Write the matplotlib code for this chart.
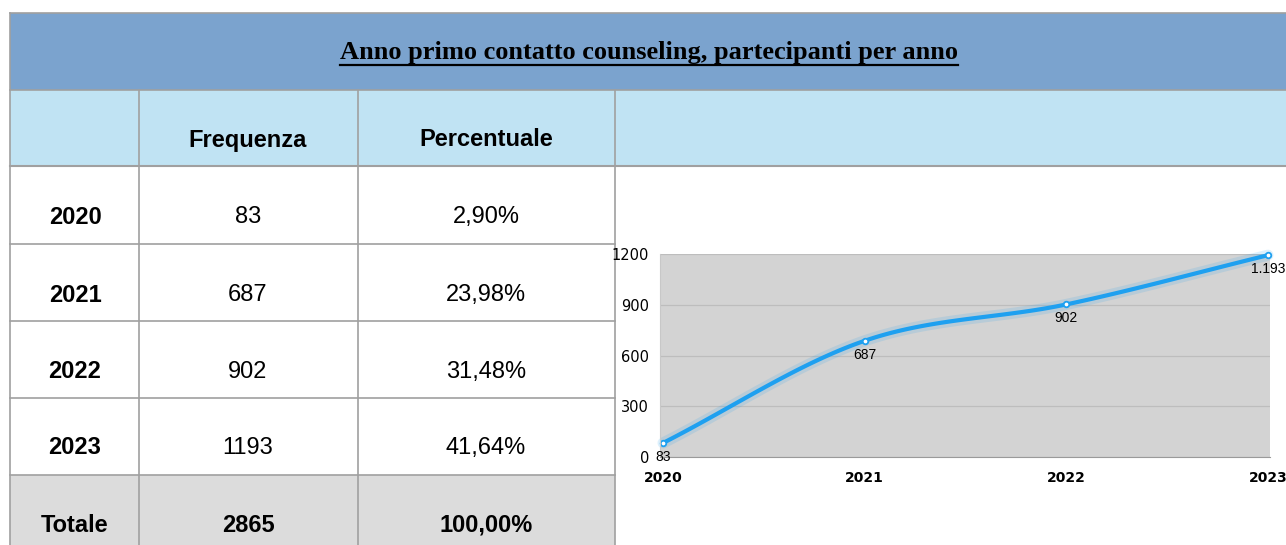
import numpy as np
import matplotlib
matplotlib.use("Agg")
import matplotlib.pyplot as plt
from matplotlib.patches import Rectangle

# ---- data ----
title = "Anno primo contatto counseling, partecipanti per anno"
headers = ["", "Frequenza", "Percentuale"]
years = ["2020", "2021", "2022", "2023"]
freq = [83, 687, 902, 1193]
perc = ["2,90%", "23,98%", "31,48%", "41,64%"]
total_label = "Totale"
total_freq = "2865"
total_perc = "100,00%"
point_labels = ["83", "687", "902", "1.193"]
yticks = [0, 300, 600, 900, 1200]

W, H = 1286, 545
fig = plt.figure(figsize=(W / 100, H / 100), dpi=100)
bg = fig.add_axes([0, 0, 1, 1])
bg.set_xlim(0, W)
bg.set_ylim(H, 0)
bg.axis("off")

grid_c = "#a0a0a0"
# title band
bg.add_patch(Rectangle((10, 13), W - 10, 77, facecolor="#7BA3CE", edgecolor="none"))
# header band
bg.add_patch(Rectangle((10, 90), W - 10, 76, facecolor="#C0E3F3", edgecolor="none"))
# totals band
bg.add_patch(Rectangle((10, 475), 605, 75, facecolor="#DCDCDC", edgecolor="none"))

# borders
bg.plot([10, W], [13, 13], color=grid_c, lw=1.2)
bg.plot([10, W], [90, 90], color=grid_c, lw=1.2)
bg.plot([10, W], [166, 166], color=grid_c, lw=1.5)
for y in [244, 321, 398, 475]:
    bg.plot([10, 615], [y, y], color=grid_c, lw=1.2)
bg.plot([10, 10], [13, H], color=grid_c, lw=1.2)
for x in [139, 358]:
    bg.plot([x, x], [90, H], color=grid_c, lw=1.2)
bg.plot([615, 615], [90, H], color=grid_c, lw=1.2)

# title
t = bg.text(649, 52, title, ha="center", va="center", fontsize=19,
            fontfamily="Liberation Serif", fontweight="bold", color="black")
fig.canvas.draw()
bb = t.get_window_extent(renderer=fig.canvas.get_renderer())
bg.plot([bb.x0, bb.x1], [H - bb.y0 + 1, H - bb.y0 + 1], color="black", lw=1.6)

# header
sans = "Liberation Sans"
fs = 17
bg.text(248, 140, headers[1], ha="center", va="center", fontsize=fs,
        fontfamily=sans, fontweight="bold")
bg.text(486, 140, headers[2], ha="center", va="center", fontsize=fs,
        fontfamily=sans, fontweight="bold")

row_y = [217, 295, 372, 448]
for yy, yr, f, p in zip(row_y, years, freq, perc):
    bg.text(75, yy, yr, ha="center", va="center", fontsize=fs,
            fontfamily=sans, fontweight="bold")
    bg.text(248, yy, str(f), ha="center", va="center", fontsize=fs,
            fontfamily=sans)
    bg.text(486, yy, p, ha="center", va="center", fontsize=fs,
            fontfamily=sans)
bg.text(75, 525, total_label, ha="center", va="center", fontsize=fs,
        fontfamily=sans, fontweight="bold")
bg.text(248, 525, total_freq, ha="center", va="center", fontsize=fs,
        fontfamily=sans, fontweight="bold")
bg.text(486, 525, total_perc, ha="center", va="center", fontsize=fs,
        fontfamily=sans, fontweight="bold")

# ---- line chart ----
left, right, top, bottom = 660, 1270, 254, 457
ax = fig.add_axes([left / W, 1 - bottom / H, (right - left) / W, (bottom - top) / H])
ax.set_facecolor("#D3D3D3")
x = np.arange(len(years))
ax.set_xlim(-0.015, 3.01)
ax.set_ylim(0, 1200)

# smooth (Catmull-Rom) rendering through the data points
xp = np.concatenate([[x[0] - (x[1] - x[0])], x, [x[-1] + (x[-1] - x[-2])]]).astype(float)
yp = np.concatenate([[2 * freq[0] - freq[1]], freq, [2 * freq[-1] - freq[-2]]]).astype(float)
sx, sy = [], []
tt = np.linspace(0, 1, 40)
for i in range(1, len(xp) - 2):
    for arr, out in ((xp, sx), (yp, sy)):
        p0, p1, p2, p3 = arr[i - 1], arr[i], arr[i + 1], arr[i + 2]
        seg = 0.5 * ((2 * p1) + (-p0 + p2) * tt + (2 * p0 - 5 * p1 + 4 * p2 - p3) * tt ** 2
                     + (-p0 + 3 * p1 - 3 * p2 + p3) * tt ** 3)
        out.extend(seg)

ax.set_yticks(yticks)
ax.yaxis.grid(True, color="#bdbdbd", lw=0.9)
ax.set_axisbelow(True)
for s in ["top", "right"]:
    ax.spines[s].set_visible(False)
ax.spines["left"].set_color("#c8c8c8")
ax.spines["bottom"].set_color("#9a9a9a")
ax.tick_params(length=0)
ax.set_yticklabels([str(v) for v in yticks], fontsize=10.5, fontfamily="DejaVu Sans",
                   color="black")
ax.tick_params(axis="y", pad=8)
ax.set_xticks(x)
ax.set_xticklabels(years, fontsize=10, fontweight="bold", fontfamily="DejaVu Sans")
ax.tick_params(axis="x", pad=10)

ax.plot(sx, sy, color="#1EA0F0", lw=8, alpha=0.15, solid_capstyle="round", clip_on=False)
ax.plot(sx, sy, color="#1EA0F0", lw=3, solid_capstyle="round", clip_on=False)
ax.plot(x, freq, "o", ms=4, mfc="white", mec="#1EA0F0", mew=1.3, clip_on=False)
for xi, yi, lab in zip(x, freq, point_labels):
    ax.annotate(lab, (xi, yi), xytext=(0, -10), textcoords="offset points",
                ha="center", va="center", fontsize=10, fontfamily=sans,
                annotation_clip=False)

fig.savefig("out.png", dpi=100)
